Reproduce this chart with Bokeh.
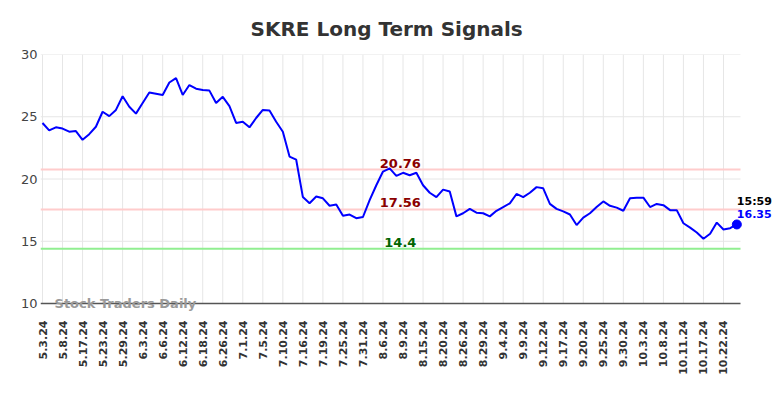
import math
from bokeh.plotting import figure
from bokeh.models import FixedTicker, Label, ColumnDataSource, Range1d
from bokeh.embed import file_html
from bokeh.resources import INLINE

tick_labels = ["5.3.24", "5.8.24", "5.17.24", "5.23.24", "5.29.24", "6.3.24", "6.6.24",
               "6.12.24", "6.18.24", "6.26.24", "7.1.24", "7.5.24", "7.10.24", "7.16.24",
               "7.19.24", "7.25.24", "7.31.24", "8.6.24", "8.9.24", "8.15.24", "8.20.24",
               "8.26.24", "8.29.24", "9.4.24", "9.9.24", "9.12.24", "9.17.24", "9.20.24",
               "9.25.24", "9.30.24", "10.3.24", "10.8.24", "10.11.24", "10.17.24", "10.22.24"]

prices = [24.5, 23.9, 24.15, 24.05, 23.8, 23.85, 23.15, 23.6, 24.2, 25.4,
          25.05, 25.55, 26.65, 25.8, 25.25, 26.1, 26.95, 26.85, 26.75, 27.75,
          28.1, 26.75, 27.55, 27.25, 27.15, 27.1, 26.1, 26.6, 25.85, 24.5,
          24.6, 24.15, 24.9, 25.55, 25.5, 24.6, 23.8, 21.8, 21.55, 18.55,
          18.05, 18.6, 18.45, 17.85, 17.95, 17.05, 17.15, 16.85, 16.95, 18.3,
          19.5, 20.6, 20.85, 20.25, 20.5, 20.3, 20.5, 19.5, 18.9, 18.55,
          19.15, 19.0, 17.0, 17.25, 17.6, 17.3, 17.25, 17.0, 17.45, 17.75,
          18.05, 18.8, 18.55, 18.9, 19.35, 19.25, 18.0, 17.6, 17.4, 17.15,
          16.3, 16.9, 17.25, 17.75, 18.2, 17.85, 17.7, 17.45, 18.45, 18.5,
          18.5, 17.75, 18.0, 17.9, 17.5, 17.5, 16.45, 16.1, 15.7, 15.2,
          15.6, 16.5, 15.95, 16.05, 16.35]

y_ticks = [10, 15, 20, 25, 30]
resistance_high = 20.76
resistance_low = 17.56
support = 14.4
last_time = "15:59"
last_price = 16.35
points_per_label = 3

idx = list(range(len(prices)))
tick_pos = [i * points_per_label for i in range(len(tick_labels))]

FONT = "DejaVu Sans"
X0, X1 = -0.3, 111.14      # visible index range (right part holds the last-price note)
XE = 104.55                # where the plotted area visually ends
Y0, Y1 = 9.28, 30

p = figure(width=784, height=398, output_backend="svg", toolbar_location=None,
           x_range=Range1d(X0, X1), y_range=Range1d(Y0, Y1),
           min_border_left=40, min_border_right=0, min_border_top=54, min_border_bottom=86)
p.title.text = "SKRE Long Term Signals"
p.title.align = "left"
p.title.text_font = FONT
p.title.text_font_size = "20px"
p.title.text_color = "#333333"
p.title.offset = 210
p.title.standoff = 27

p.outline_line_color = None
p.xgrid.visible = False
p.ygrid.visible = False

p.xaxis.ticker = FixedTicker(ticks=tick_pos)
p.xaxis.major_label_overrides = {tp: lab for tp, lab in zip(tick_pos, tick_labels)}
p.xaxis.major_label_orientation = math.pi / 2
p.xaxis.major_label_text_font = FONT
p.xaxis.major_label_text_font_size = "11px"
p.xaxis.major_label_text_font_style = "bold"
p.xaxis.major_label_text_color = "#333333"
p.xaxis.major_tick_line_color = None
p.xaxis.major_tick_out = 0
p.xaxis.major_tick_in = 0
p.xaxis.minor_tick_line_color = None
p.xaxis.axis_line_color = None
p.xaxis.major_label_standoff = 8

p.yaxis.ticker = FixedTicker(ticks=y_ticks)
p.yaxis.major_label_text_font = FONT
p.yaxis.major_label_text_font_size = "13px"
p.yaxis.major_label_text_color = "#444444"
p.yaxis.axis_line_color = None
p.yaxis.major_tick_line_color = None
p.yaxis.major_tick_out = 0
p.yaxis.major_tick_in = 0
p.yaxis.minor_tick_line_color = None
p.yaxis.major_label_standoff = 3

GRID = "#e6e6e6"
# vertical grid lines
p.segment(x0=tick_pos, y0=[y_ticks[0]] * len(tick_pos), x1=tick_pos, y1=[y_ticks[-1]] * len(tick_pos),
          line_color=GRID, line_width=1)
# horizontal grid lines
p.segment(x0=[X0] * 4, y0=y_ticks[1:], x1=[XE] * 4, y1=y_ticks[1:], line_color=GRID, line_width=1)

for val, col in [(resistance_high, "#ffcccc"), (resistance_low, "#ffcccc"), (support, "#90ee90")]:
    p.segment(x0=[X0], y0=[val], x1=[XE], y1=[val], line_color=col, line_width=2)

# bottom axis line
p.segment(x0=[X0], y0=[y_ticks[0]], x1=[XE], y1=[y_ticks[0]], line_color="#555555", line_width=1.5)

src = ColumnDataSource(dict(x=idx, y=prices))
p.line("x", "y", source=src, line_color="#0000ff", line_width=2)
p.scatter([idx[-1]], [last_price], size=9, color="#0000ff")

mid = 53.6
for val, col in [(resistance_high, "#8b0000"), (resistance_low, "#8b0000"), (support, "#006400")]:
    p.add_layout(Label(x=mid, y=val, text=str(val), text_align="center", text_baseline="bottom",
                       y_offset=2, text_font=FONT, text_font_size="13px", text_font_style="bold",
                       text_color=col))

p.add_layout(Label(x=idx[-1], y=last_price, text=last_time, x_offset=0, y_offset=23,
                   text_baseline="middle", text_align="left", text_font=FONT, text_font_size="11px",
                   text_font_style="bold", text_color="black"))
p.add_layout(Label(x=idx[-1], y=last_price, text=f"{last_price:.2f}", x_offset=0, y_offset=10,
                   text_baseline="middle", text_align="left", text_font=FONT, text_font_size="11px",
                   text_font_style="bold", text_color="#0000ff"))

p.add_layout(Label(x=1.8, y=y_ticks[0], text="Stock Traders Daily", text_baseline="middle",
                   text_align="left", text_font=FONT, text_font_size="13px",
                   text_font_style="bold", text_color="#9a9a9a"))

open("out.html", "w").write(file_html(p, INLINE))
